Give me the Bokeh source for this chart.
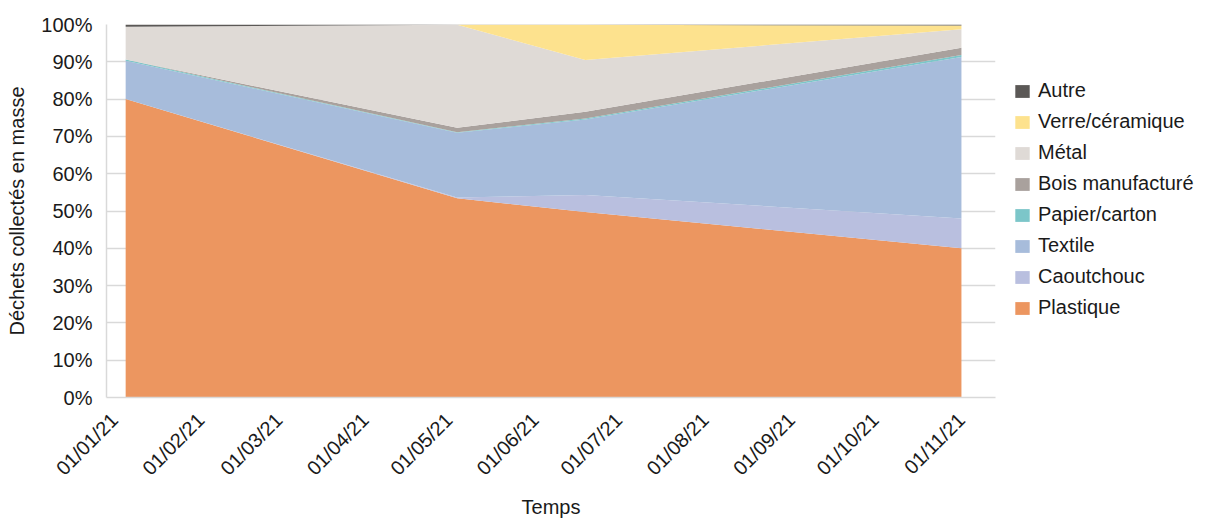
import math
from datetime import datetime, timedelta
from bokeh.plotting import figure
from bokeh.layouts import row
from bokeh.models import (ColumnDataSource, Legend, LegendItem, FixedTicker,
                          PrintfTickFormatter, Range1d)
from bokeh.embed import file_html
from bokeh.resources import INLINE

# ---- data ----
dates = ["2021-01-05", "2021-05-04", "2021-06-19", "2021-11-01"]
categories = ["Plastique", "Caoutchouc", "Textile", "Papier/carton",
              "Bois manufacturé", "Métal", "Verre/céramique", "Autre"]
plastique = [80.0, 53.4, 49.7, 40.0]
caoutchouc = [0.0, 0.2, 4.6, 8.0]
textile = [10.3, 17.4, 20.2, 43.3]
papier = [0.3, 0.1, 0.3, 0.5]
bois = [0.0, 1.2, 1.8, 2.0]
metal = [8.8, 27.6, 13.9, 4.9]
verre = [0.0, 0.0, 9.4, 1.0]
autre = [0.6, 0.1, 0.1, 0.3]
colors = ["#EC9660", "#B9BFDF", "#A7BCDB", "#7CC6C9",
          "#A9A19D", "#DFDAD6", "#FDE28E", "#5B5856"]
tick_dates = ["2021-01-01", "2021-02-01", "2021-03-01", "2021-04-01",
              "2021-05-01", "2021-06-01", "2021-07-01", "2021-08-01",
              "2021-09-01", "2021-10-01", "2021-11-01"]
tick_labels = ["01/01/21", "01/02/21", "01/03/21", "01/04/21", "01/05/21",
               "01/06/21", "01/07/21", "01/08/21", "01/09/21", "01/10/21",
               "01/11/21"]
y_ticks = [0, 10, 20, 30, 40, 50, 60, 70, 80, 90, 100]

# ---- build ----
EPOCH = datetime(1970, 1, 1)
def to_dt(s):
    return datetime.strptime(s, "%Y-%m-%d")
def to_ms(d):
    return (d - EPOCH).total_seconds() * 1000.0

keys = ["c%d" % i for i in range(len(categories))]
series = [plastique, caoutchouc, textile, papier, bois, metal, verre, autre]
data = {"date": [to_dt(d) for d in dates]}
for k, s in zip(keys, series):
    data[k] = s
src = ColumnDataSource(data)

x_start = datetime(2020, 12, 29, 3)
x_end = x_start + timedelta(days=319.1)

FONT = "Liberation Sans"
p = figure(width=1000, height=521, x_axis_type="datetime",
           x_range=Range1d(x_start, x_end), y_range=Range1d(0, 100),
           output_backend="svg", toolbar_location=None,
           min_border_left=106, min_border_right=5,
           min_border_top=24, min_border_bottom=124)
p.outline_line_color = None
p.background_fill_color = "white"
p.border_fill_color = "white"

rends = p.varea_stack(stackers=keys, x="date", color=colors, source=src)

# axes
p.xaxis.ticker = FixedTicker(ticks=[to_ms(to_dt(d)) for d in tick_dates])
p.xaxis.major_label_overrides = {to_ms(to_dt(d)): l for d, l in zip(tick_dates, tick_labels)}
p.xaxis.major_label_orientation = math.pi / 4
p.yaxis.ticker = FixedTicker(ticks=y_ticks)
p.yaxis.formatter = PrintfTickFormatter(format="%d%%")
for ax in (p.xaxis[0], p.yaxis[0]):
    ax.axis_line_color = "#D9D9D9"
    ax.axis_line_width = 1.5
    ax.major_tick_line_color = None
    ax.minor_tick_line_color = None
    ax.major_label_text_font = FONT
    ax.major_label_text_font_size = "20px"
    ax.major_label_text_color = "#1a1a1a"
    ax.axis_label_text_font = FONT
    ax.axis_label_text_font_size = "20px"
    ax.axis_label_text_font_style = "normal"
    ax.axis_label_text_color = "#1a1a1a"
p.xaxis.axis_label = "Temps"
p.yaxis.axis_label = "Déchets collectés en masse"
p.yaxis.major_label_standoff = 8
p.xaxis.major_label_standoff = 13
p.yaxis.axis_label_standoff = 10
p.xaxis.axis_label_standoff = 6

p.xgrid.visible = False
p.ygrid.grid_line_color = "#D9D9D9"
p.ygrid.grid_line_width = 1.5

# ---- legend panel (separate figure to the right) ----
q = figure(width=225, height=521, x_range=Range1d(0, 1), y_range=Range1d(0, 1),
           output_backend="svg", toolbar_location=None,
           x_axis_location=None, y_axis_location=None,
           min_border_left=0, min_border_right=0,
           min_border_top=0, min_border_bottom=0)
q.outline_line_color = None
q.grid.visible = False
q.background_fill_color = "white"
q.border_fill_color = "white"
# legend-only renderers, placed outside the visible range
dummy = [q.varea(x=[-10, -9], y1=[0, 0], y2=[0, 0], color=c) for c in colors]

items = [LegendItem(label=categories[i], renderers=[dummy[i]])
         for i in reversed(range(len(categories)))]
legend = Legend(items=items, location=(13, 78))
legend.label_text_font = FONT
legend.label_text_font_size = "20px"
legend.label_text_color = "#1a1a1a"
legend.glyph_width = 18
legend.glyph_height = 16
legend.label_height = 22
legend.spacing = 8
legend.label_standoff = 7
legend.padding = 10
legend.margin = 0
legend.border_line_color = None
legend.background_fill_alpha = 0
q.add_layout(legend)

layout = row(p, q)
open("out.html", "w").write(file_html(layout, INLINE))
